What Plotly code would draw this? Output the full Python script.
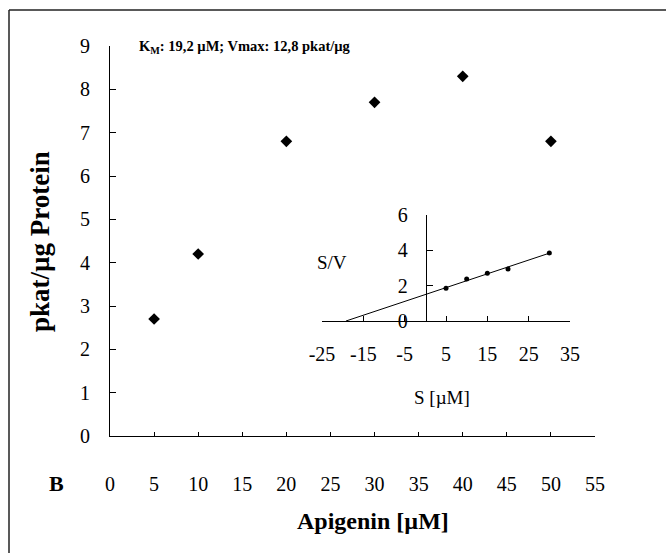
import plotly.graph_objects as go

# Main data: Apigenin concentration vs activity
apigenin_um = [5, 10, 20, 30, 40, 50]
activity = [2.7, 4.2, 6.8, 7.7, 8.3, 6.8]

# Inset (Hanes-Woolf plot): S vs S/V
inset_s = [5, 10, 15, 20, 30]
inset_sv = [1.85, 2.38, 2.7, 2.94, 3.85]
fit_s = [-19.2, 30]
fit_sv = [0.0, 3.84]

main_xticks = [0, 5, 10, 15, 20, 25, 30, 35, 40, 45, 50, 55]
main_yticks = [0, 1, 2, 3, 4, 5, 6, 7, 8, 9]
inset_xticks = [-25, -15, -5, 5, 15, 25, 35]
inset_xlabels = ["-25", "-15", "-5", "5", "15", "25", "35"]
inset_yticks = [0, 2, 4, 6]

FONT = "Liberation Serif, Times New Roman, serif"
W, H = 666, 553
L, R, T, B = 110, 595, 46, 436
pw, ph = R - L, B - T

def px(x):
    return (x - L) / pw

def py(y):
    return (B - y) / ph

fig = go.Figure()
fig.add_trace(go.Scatter(x=apigenin_um, y=activity, mode="markers",
                         marker=dict(symbol="diamond", size=9, color="black"),
                         xaxis="x", yaxis="y", showlegend=False))
fig.add_trace(go.Scatter(x=fit_s, y=fit_sv, mode="lines",
                         line=dict(color="black", width=1),
                         xaxis="x2", yaxis="y2", showlegend=False))
fig.add_trace(go.Scatter(x=inset_s, y=inset_sv, mode="markers",
                         marker=dict(symbol="circle", size=5, color="black"),
                         xaxis="x2", yaxis="y2", showlegend=False))

axis_common = dict(showgrid=False, zeroline=False, showline=True, linecolor="black",
                   linewidth=1, ticks="inside", tickcolor="black", tickwidth=1,
                   tickfont=dict(family=FONT, size=20, color="black"))

inset_x0 = (322 - L) / pw
inset_x1 = (570 - L) / pw
inset_y0 = (B - 321) / ph
inset_y1 = (B - 215) / ph

fig.update_layout(
    width=W, height=H,
    margin=dict(l=L, r=W - R, t=T, b=H - B),
    plot_bgcolor="white", paper_bgcolor="white",
    font=dict(family=FONT, color="black"),
    xaxis=dict(range=[0, 55], tickvals=main_xticks, ticklen=4,
               ticklabelstandoff=30, domain=[0, 1], anchor="y", **axis_common),
    yaxis=dict(range=[0, 9], tickvals=main_yticks, ticklen=6,
               ticklabelstandoff=15, domain=[0, 1], anchor="x", **axis_common),
    xaxis2=dict(range=[-25, 35], tickvals=inset_xticks, ticktext=inset_xlabels,
                ticklen=5, ticklabelstandoff=15, domain=[inset_x0, inset_x1],
                anchor="y2", **axis_common),
    yaxis2=dict(range=[0, 6], tickvals=inset_yticks, ticklen=6,
                ticklabelstandoff=14, domain=[inset_y0, inset_y1], anchor="free",
                position=px(425.7), **axis_common),
)

ann = []
ann.append(dict(text="<b>K<sub>M</sub>: 19,2 µM; Vmax: 12,8 pkat/µg</b>",
                x=px(137), y=py(47), xanchor="left", yanchor="middle",
                font=dict(family=FONT, size=14.5, color="black")))
ann.append(dict(text="<b>Apigenin [µM]</b>", x=px(373), y=py(521),
                xanchor="center", yanchor="middle",
                font=dict(family=FONT, size=24, color="black")))
ann.append(dict(text="<b>pkat/µg Protein</b>", x=px(40), y=py(242), textangle=-90,
                xanchor="center", yanchor="middle",
                font=dict(family=FONT, size=27, color="black")))
ann.append(dict(text="<b>B</b>", x=px(56), y=py(483),
                xanchor="center", yanchor="middle",
                font=dict(family=FONT, size=22, color="black")))
ann.append(dict(text="S/V", x=px(332), y=py(262),
                xanchor="center", yanchor="middle",
                font=dict(family=FONT, size=19, color="black")))
ann.append(dict(text="S [µM]", x=px(442), y=py(397),
                xanchor="center", yanchor="middle",
                font=dict(family=FONT, size=19, color="black")))
for a in ann:
    a.update(xref="paper", yref="paper", showarrow=False)
fig.update_layout(annotations=ann)

fig.update_layout(shapes=[
    dict(type="line", xref="paper", yref="paper", x0=px(9), y0=py(10), x1=px(680), y1=py(10),
         line=dict(color="#222", width=1.5)),
    dict(type="line", xref="paper", yref="paper", x0=px(9), y0=py(10), x1=px(9), y1=py(570),
         line=dict(color="#222", width=1.5)),
])

fig.write_html("out.html")
